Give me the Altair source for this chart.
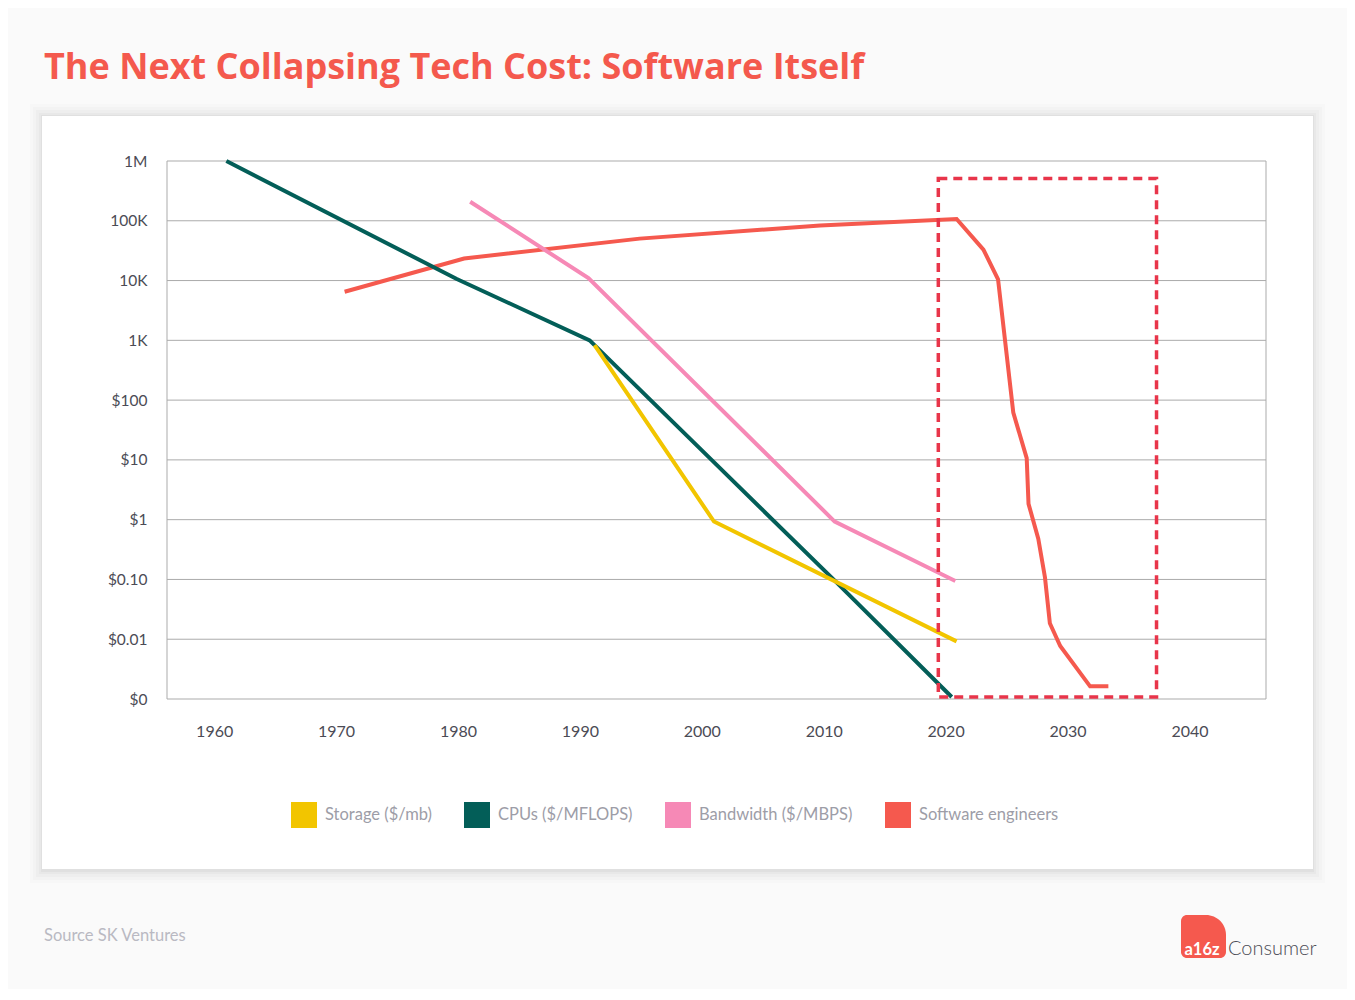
import altair as alt
import pandas as pd

# ---------------- data ----------------
series_names = ["Storage ($/mb)", "CPUs ($/MFLOPS)", "Bandwidth ($/MBPS)", "Software engineers"]
series_colors = ["#F2C500", "#035E58", "#F689B6", "#F5594E"]

storage_years = [1991.2, 2001.0, 2020.9]
storage_costs = [835, 0.93, 0.0092]

cpu_years = [1961.0, 1979.9, 1990.8, 2000.8, 2010.8, 2020.5]
cpu_costs = [1000000, 10600, 1000, 10, 0.1, 0.00108]

bandwidth_years = [1981.0, 1990.7, 2010.9, 2020.8]
bandwidth_costs = [208000, 11000, 0.93, 0.094]

engineer_years = [1970.7, 1980.5, 1994.9, 2009.7, 2020.9, 2023.1, 2024.3, 2025.55,
                  2026.65, 2026.8, 2027.6, 2028.15, 2028.55, 2029.4, 2031.85, 2033.35]
engineer_costs = [6500, 23400, 50300, 83300, 107000, 33000, 10500, 62,
                  10.7, 1.84, 0.48, 0.108, 0.0185, 0.0077, 0.00163, 0.00163]

year_ticks = [1960, 1970, 1980, 1990, 2000, 2010, 2020, 2030, 2040]
cost_ticks = [0.001, 0.01, 0.1, 1, 10, 100, 1000, 10000, 100000, 1000000]
cost_labels = ["$0", "$0.01", "$0.10", "$1", "$10", "$100", "1K", "10K", "100K", "1M"]

highlight_years = [2019.4, 2037.3]
highlight_costs = [0.00108, 509000]

title_text = "The Next Collapsing Tech Cost: Software Itself"
source_text = "Source SK Ventures"

# ---------------- build tables ----------------
rows = []
for name, ys, cs in [
    (series_names[0], storage_years, storage_costs),
    (series_names[1], cpu_years, cpu_costs),
    (series_names[2], bandwidth_years, bandwidth_costs),
    (series_names[3], engineer_years, engineer_costs),
]:
    for i, (y, c) in enumerate(zip(ys, cs)):
        rows.append({"series": name, "year": y, "cost": c, "idx": i})
df = pd.DataFrame(rows)

grid_df = pd.DataFrame({"cost": cost_ticks})
hl_df = pd.DataFrame({"x0": [highlight_years[0]], "x1": [highlight_years[1]],
                      "y0": [highlight_costs[0]], "y1": [highlight_costs[1]]})
one = alt.Data(values=[{"k": 1}])

W, H = 1099, 538
FONT = "Lato"
AXIS_COLOR = "#4B4B55"

label_expr = ""
for v, lab in zip(cost_ticks, cost_labels):
    label_expr += f"datum.value < {v * 1.5} ? '{lab}' : "
label_expr += "''"

xscale = alt.Scale(domain=[1956.13, 2046.28], nice=False, zero=False)
yscale = alt.Scale(type="log", domain=[0.001, 1000000], nice=False)
color_scale = alt.Scale(domain=series_names, range=series_colors)

x_axis = alt.Axis(values=year_ticks, format="d", title=None, grid=False, domain=False,
                  ticks=False, labelPadding=24, labelFontSize=16, labelColor=AXIS_COLOR,
                  labelFont=FONT, zindex=1)
y_axis = alt.Axis(values=cost_ticks, labelExpr=label_expr, title=None, grid=False,
                  domain=False, ticks=False, labelPadding=20, labelFontSize=15.5,
                  labelColor=AXIS_COLOR, labelFont=FONT, zindex=1)

legend = alt.Legend(orient="none", legendX=124, legendY=641, direction="horizontal",
                    title=None, symbolType="square", symbolSize=676, symbolStrokeWidth=0,
                    symbolOpacity=1,
                    labelFont=FONT, labelFontSize=16.5, labelColor="#9D9DA7",
                    labelOffset=8, columnPadding=32, padding=0)

# legend only layer (no marks drawn)
legend_layer = alt.Chart(df).transform_filter("false").mark_square(filled=True, opacity=1).encode(
    color=alt.Color("series:N", scale=color_scale, legend=legend)
)

# card shadow + card
shadow_layers = []
for e, op in [(12, 0.012), (9, 0.015), (6, 0.018), (3, 0.022), (1, 0.03)]:
    shadow_layers.append(
        alt.Chart(one).mark_rect(color="#000000", opacity=op).encode(
            x=alt.value(-125 - e), x2=alt.value(1146 + e),
            y=alt.value(-45 - e), y2=alt.value(708 + e + 2)
        )
    )
card = alt.Chart(one).mark_rect(color="#FFFFFF").encode(
    x=alt.value(-125), x2=alt.value(1146), y=alt.value(-45), y2=alt.value(708)
)

grid = alt.Chart(grid_df).mark_rule(color="#ABABAB", strokeWidth=1).encode(
    y=alt.Y("cost:Q", scale=yscale, axis=y_axis),
    x=alt.value(0), x2=alt.value(W)
)
frame_left = alt.Chart(one).mark_rule(color="#ABABAB", strokeWidth=1).encode(
    x=alt.value(0), y=alt.value(0), y2=alt.value(H))
frame_right = alt.Chart(one).mark_rule(color="#ABABAB", strokeWidth=1).encode(
    x=alt.value(W), y=alt.value(0), y2=alt.value(H))


def line_layer(name):
    return alt.Chart(df).transform_filter(alt.datum.series == name).mark_line(
        strokeWidth=4, strokeJoin="miter", strokeCap="butt"
    ).encode(
        x=alt.X("year:Q", scale=xscale, axis=x_axis),
        y=alt.Y("cost:Q", scale=yscale, axis=y_axis),
        order="idx:Q",
        color=alt.Color("series:N", scale=color_scale, legend=legend),
    )


lines = [line_layer(series_names[3]), line_layer(series_names[1]),
         line_layer(series_names[0]), line_layer(series_names[2])]

highlight = alt.Chart(hl_df).mark_rect(fillOpacity=0, stroke="#E8354A", strokeWidth=3.5,
                                       strokeDash=[9, 6]).encode(
    x=alt.X("x0:Q", scale=xscale, axis=x_axis), x2="x1:Q",
    y=alt.Y("y0:Q", scale=yscale, axis=y_axis), y2="y1:Q"
)

title = alt.Chart(one).mark_text(align="left", baseline="alphabetic", font="Open Sans",
                                 fontSize=36, fontWeight="bold", color="#F4594D").encode(
    x=alt.value(-123), y=alt.value(-82.5), text=alt.value(title_text))

source = alt.Chart(one).mark_text(align="left", baseline="alphabetic", font=FONT,
                                  fontSize=16.5, color="#B9B9C2").encode(
    x=alt.value(-123), y=alt.value(779.5), text=alt.value(source_text))

logo_box = alt.Chart(one).mark_rect(color="#F5594E", cornerRadius=6,
                                    cornerRadiusTopRight=20).encode(
    x=alt.value(1014), x2=alt.value(1059), y=alt.value(754), y2=alt.value(797))
logo_a16z = alt.Chart(one).mark_text(align="left", baseline="alphabetic", font=FONT,
                                     fontSize=16.5, fontWeight="bold", color="#FFFFFF").encode(
    x=alt.value(1017.5), y=alt.value(794), text=alt.value("a16z"))
logo_consumer = alt.Chart(one).mark_text(align="left", baseline="alphabetic", font=FONT,
                                         fontSize=20, fontWeight=300, color="#4B4B55").encode(
    x=alt.value(1061), y=alt.value(794), text=alt.value("Consumer"))

chart = alt.layer(
    legend_layer, *shadow_layers, card, grid, frame_left, frame_right, *lines, highlight,
    title, source, logo_box, logo_a16z, logo_consumer
).properties(
    width=W, height=H,
    autosize=alt.AutoSizeParams(type="none"),
    padding={"left": 159, "top": 153, "right": 81, "bottom": 290},
).configure(background="#FAFAFA").configure_view(stroke=None)

chart.save("out.html", embed_options={"renderer": "svg", "actions": False})
